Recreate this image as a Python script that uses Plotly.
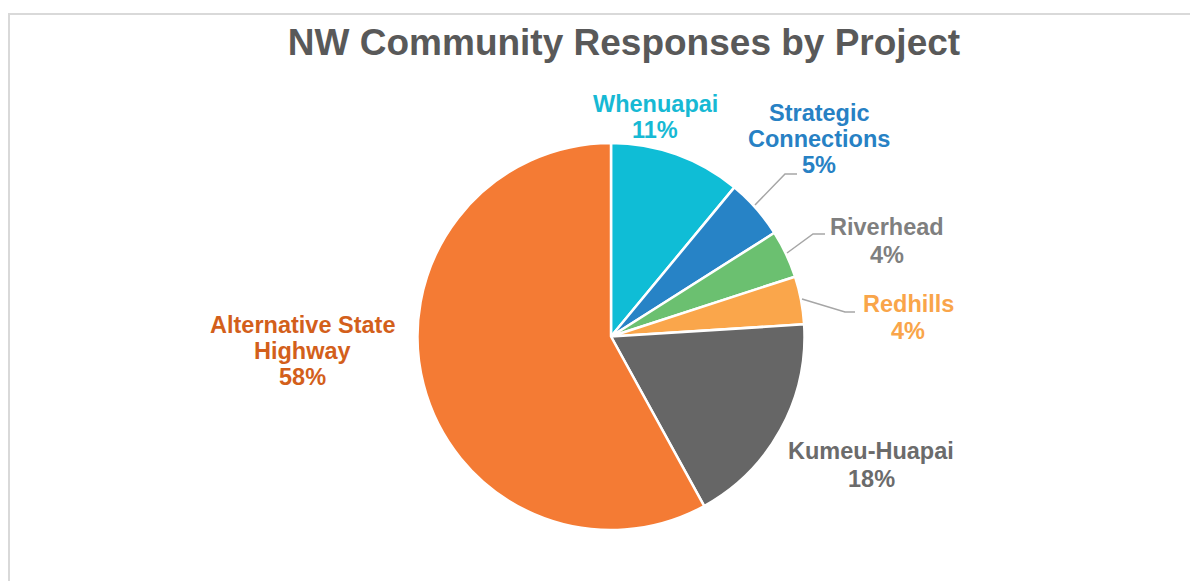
import plotly.graph_objects as go

# NW community responses, share by project (clockwise from 12 o'clock)
projects = ["Whenuapai", "Strategic Connections", "Riverhead", "Redhills",
            "Kumeu-Huapai", "Alternative State Highway"]
shares = [11, 5, 4, 4, 18, 58]
label_lines = [["Whenuapai"], ["Strategic", "Connections"], ["Riverhead"], ["Redhills"],
               ["Kumeu-Huapai"], ["Alternative State", "Highway"]]

slice_colors = ["#0FBDD6", "#2783C6", "#6BC070", "#FAA64B", "#666666", "#F47B34"]
label_colors = ["#17B9D4", "#2781C4", "#7F7F7F", "#F9A54A", "#6B6B6B", "#D35F1B"]

# page body has an 8px margin, so the figure is shrunk and coordinates shifted
OFF = 8
W, H = 1198 - OFF, 581 - OFF


def px(x, y):
    return (x - OFF) / W, 1 - (y - OFF) / H


# label block centres (window pixels) and leader lines
label_pos = [(655, 117), (819, 139), (887, 241), (908, 317), (871, 465), (302, 351)]
line_gap = [26, 26, 28, 27, 28, 26.5]
leaders = [None,
           [(755, 205), (785, 174), (797, 174)],
           [(787, 253), (813, 234), (825, 234)],
           [(802, 299), (845, 312), (855, 312)],
           None, None]

total = sum(shares)

x0, y1 = px(417, 143)
x1, y0 = px(805, 530)

fig = go.Figure()
fig.add_trace(go.Pie(
    labels=projects,
    values=shares,
    sort=False,
    direction="clockwise",
    rotation=0,
    marker=dict(colors=slice_colors, line=dict(color="white", width=2.5)),
    textinfo="none",
    hoverinfo="label+percent",
    showlegend=False,
    domain=dict(x=[x0, x1], y=[y0, y1]),
))

font_family = "Liberation Sans, Arial, sans-serif"
annotations = []
for lines, val, col, (lx, ly), gap in zip(label_lines, shares, label_colors, label_pos, line_gap):
    rows = lines + [f"{round(val / total * 100)}%"]
    n = len(rows)
    for i, row in enumerate(rows):
        x, y = px(lx, ly + (i - (n - 1) / 2) * gap)
        annotations.append(dict(
            x=x, y=y, xref="paper", yref="paper", text=row, showarrow=False,
            xanchor="center", yanchor="middle", align="center",
            font=dict(family=font_family, size=23.5, color=col, weight="bold"),
        ))

fx0, fy1 = px(9, 14)
shapes = [dict(type="rect", xref="paper", yref="paper",
               x0=fx0, y0=-0.05, x1=1.05, y1=fy1,
               line=dict(color="#D9D9D9", width=2), layer="below")]
for pts in leaders:
    if not pts:
        continue
    path = "M " + " L ".join(f"{px(a, b)[0]},{px(a, b)[1]}" for a, b in pts)
    shapes.append(dict(type="path", xref="paper", yref="paper", path=path,
                       line=dict(color="#A6A6A6", width=1.5)))

tx, ty = px(624, 42)
fig.update_layout(
    width=W, height=H,
    margin=dict(l=0, r=0, t=0, b=0),
    paper_bgcolor="white",
    title=dict(text="NW Community Responses by Project", x=tx, y=ty,
               xanchor="center", yanchor="middle",
               font=dict(family=font_family, size=37, color="#595959", weight="bold")),
    annotations=annotations,
    shapes=shapes,
)

fig.write_html("out.html")
